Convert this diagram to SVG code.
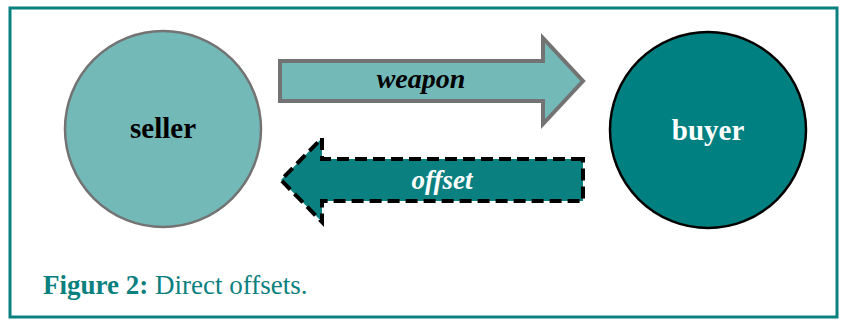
<svg xmlns="http://www.w3.org/2000/svg" width="841" height="322" viewBox="0 0 841 322">
<style>
.lbl{font-family:"Liberation Serif","Times New Roman",serif;font-weight:bold;text-anchor:middle}
.it{font-style:italic}
</style>
<rect x="0" y="0" width="841" height="322" fill="#ffffff"/>
<rect x="10" y="8" width="827" height="309" fill="none" stroke="#0a8080" stroke-width="3"/>
<g id="seller">
<circle cx="163" cy="129" r="98" fill="#73b9b8" stroke="#737373" stroke-width="2.5"/>
<text class="lbl" x="163" y="138" font-size="29" fill="#000">seller</text>
</g>
<g id="buyer">
<circle cx="708" cy="130" r="98" fill="#008080" stroke="#000" stroke-width="2.5"/>
<text class="lbl" x="708" y="140" font-size="29" fill="#fff">buyer</text>
</g>
<g id="connectors">
<g id="weapon">
<polygon points="280,61 543,61 543,38 583,81 543,124 543,101 280,101" fill="#73b9b8" stroke="#737373" stroke-width="4" stroke-linejoin="miter"/>
<text class="lbl it" x="421" y="88" font-size="28" fill="#000">weapon</text>
</g>
<g id="offset">
<polygon points="583,159 322,159 322,138 281,180 322,222 322,201 583,201" fill="#0a8080" stroke="#000" stroke-width="4" stroke-dasharray="12,6"/>
<text class="lbl it" x="442" y="189" font-size="27" fill="#fff">offset</text>
</g>
</g>
<text x="43" y="294" font-family="Liberation Serif,'Times New Roman',serif" font-size="27" fill="#0a8080"><tspan font-weight="bold">Figure 2:</tspan> Direct offsets.</text>
</svg>
